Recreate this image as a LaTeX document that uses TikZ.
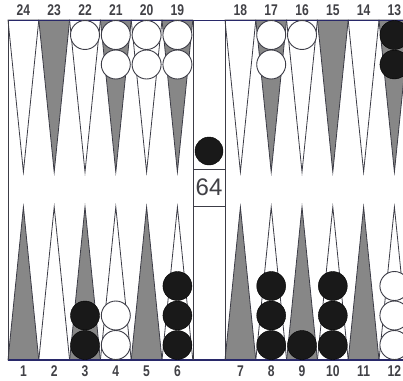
\documentclass[tikz,border=0pt]{standalone}
\usepackage{fontspec}
\setmainfont{Liberation Sans}
\usepackage{xcolor}
\definecolor{boardline}{RGB}{60,60,70}
\definecolor{pointgray}{RGB}{135,135,135}
\definecolor{framenavy}{RGB}{40,40,105}
\definecolor{labelgray}{RGB}{65,65,70}
\usepackage{tikz}

\begin{document}
\begin{tikzpicture}[x=1pt, y=-1pt,
  pointdark/.style={draw=boardline, line width=0.8pt, fill=pointgray},
  pointlight/.style={draw=boardline, line width=0.8pt, fill=white},
  whitechk/.style={circle, draw=boardline, line width=0.9pt, fill=white, minimum size=29pt, inner sep=0pt},
  blackchk/.style={circle, draw=black, fill=black!90, minimum size=29pt, inner sep=0pt},
  numlabel/.style={font=\fontsize{15.5}{16}\selectfont\bfseries, text=labelgray, xscale=0.78, inner sep=0pt},
  cubebox/.style={rectangle, draw=boardline, line width=0.8pt, fill=white, minimum width=32pt, minimum height=37pt, inner sep=0pt, font=\fontsize{24}{24}\selectfont, text=labelgray}
]
\clip (0,0) rectangle (403,380);

% Points and labels
\foreach \i in {1,...,6}{
  \pgfmathsetmacro\xl{8+30.8*(\i-0.5)}
  \pgfmathsetmacro\xr{225+30.8*(\i-0.5)}
  \pgfmathtruncatemacro\ntl{25-\i}
  \pgfmathtruncatemacro\ntr{19-\i}
  \pgfmathtruncatemacro\nbr{6+\i}
  \ifodd\i \def\topst{pointlight}\def\botst{pointdark}\else \def\topst{pointdark}\def\botst{pointlight}\fi
  \draw[\topst] (\xl-15.4,20) -- (\xl,172) -- (\xl+15.4,20) -- cycle;
  \draw[\topst] (\xr-15.4,20) -- (\xr,172) -- (\xr+15.4,20) -- cycle;
  \draw[\botst] (\xl-15.4,360) -- (\xl,207) -- (\xl+15.4,360) -- cycle;
  \draw[\botst] (\xr-15.4,360) -- (\xr,207) -- (\xr+15.4,360) -- cycle;
  \node[numlabel] (lbl\ntl) at (\xl,10) {\ntl};
  \node[numlabel] (lbl\ntr) at (\xr,10) {\ntr};
  \node[numlabel] (lbl\i) at (\xl,371.5) {\i};
  \node[numlabel] (lbl\nbr) at (\xr,371.5) {\nbr};
}

% Frame and bar
\draw[framenavy, line width=1pt] (8,20) -- (403,20);
\draw[framenavy, line width=1.6pt] (8,360) -- (403,360);
\draw[boardline, line width=0.9pt] (8,20) -- (8,360);
\draw[boardline, line width=0.9pt] (193,20) -- (193,360);
\draw[boardline, line width=0.9pt] (225,20) -- (225,360);

% Checkers
\foreach \col/\cnt/\st in {3/1/whitechk, 4/2/whitechk, 5/2/whitechk, 6/2/whitechk, 8/2/whitechk, 9/1/whitechk, 12/2/blackchk}{
  \pgfmathsetmacro\cx{\col<7 ? 8+30.8*(\col-0.5) : 225+30.8*(\col-6.5)}
  \foreach \k in {1,...,\cnt}
    \node[\st] (top-\col-\k) at (\cx,{35+29.5*(\k-1)}) {};
}
\foreach \col/\cnt/\st in {3/2/blackchk, 4/2/whitechk, 6/3/blackchk, 8/3/blackchk, 9/1/blackchk, 10/3/blackchk, 12/3/whitechk}{
  \pgfmathsetmacro\cx{\col<7 ? 8+30.8*(\col-0.5) : 225+30.8*(\col-6.5)}
  \foreach \k in {1,...,\cnt}
    \node[\st] (bot-\col-\k) at (\cx,{345-29.5*(\k-1)}) {};
}

% Bar checker and cube
\node[blackchk, minimum size=28pt] (barchk) at (209,151) {};
\node[cubebox] (cube) at (209,187.5) {64};

\end{tikzpicture}
\end{document}
